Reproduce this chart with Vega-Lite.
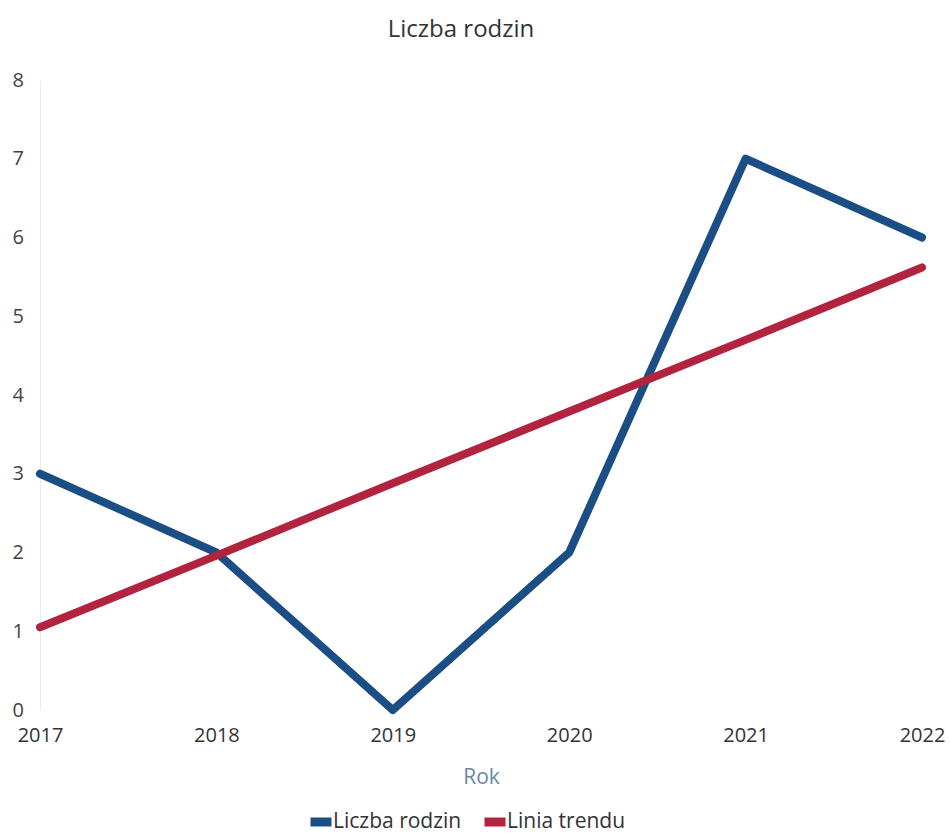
{
  "$schema": "https://vega.github.io/schema/vega-lite/v6.json",
  "width": 882,
  "height": 630,
  "autosize": {"type": "none"},
  "padding": {"left": 40, "top": 80, "right": 28, "bottom": 125},
  "background": "white",
  "title": {
    "text": "Liczba rodzin",
    "font": "Open Sans",
    "fontSize": 24,
    "fontWeight": "normal",
    "color": "#333333",
    "anchor": "middle",
    "dx": -20,
    "offset": 28
  },
  "data": {
    "values": [
      {"Rok": "2017", "value": 3, "series": "Liczba rodzin"},
      {"Rok": "2018", "value": 2, "series": "Liczba rodzin"},
      {"Rok": "2019", "value": 0, "series": "Liczba rodzin"},
      {"Rok": "2020", "value": 2, "series": "Liczba rodzin"},
      {"Rok": "2021", "value": 7, "series": "Liczba rodzin"},
      {"Rok": "2022", "value": 6, "series": "Liczba rodzin"},
      {"Rok": "2017", "value": 1.05, "series": "Linia trendu"},
      {"Rok": "2018", "value": 1.96, "series": "Linia trendu"},
      {"Rok": "2019", "value": 2.88, "series": "Linia trendu"},
      {"Rok": "2020", "value": 3.79, "series": "Linia trendu"},
      {"Rok": "2021", "value": 4.7, "series": "Linia trendu"},
      {"Rok": "2022", "value": 5.62, "series": "Linia trendu"}
    ]
  },
  "mark": {"type": "line", "strokeWidth": 8, "strokeJoin": "round", "strokeCap": "round"},
  "encoding": {
    "x": {
      "field": "Rok",
      "type": "ordinal",
      "scale": {"type": "point", "padding": 0},
      "axis": {
        "title": "Rok",
        "titleFont": "Open Sans",
        "titleFontSize": 21,
        "titleFontWeight": "normal",
        "titleColor": "#6a88a6",
        "titlePadding": 21,
        "labelAngle": 0,
        "labelFont": "Open Sans",
        "labelFontSize": 20,
        "labelColor": "#333333",
        "labelPadding": 15,
        "ticks": false,
        "domain": false,
        "grid": false
      }
    },
    "y": {
      "field": "value",
      "type": "quantitative",
      "scale": {"domain": [0, 8]},
      "axis": {
        "title": null,
        "values": [0, 1, 2, 3, 4, 5, 6, 7, 8],
        "labelFont": "Open Sans",
        "labelFontSize": 20,
        "labelColor": "#444444",
        "labelAlign": "left",
        "labelPadding": 28,
        "ticks": false,
        "domain": true,
        "domainColor": "#ececec",
        "domainWidth": 1,
        "grid": false
      }
    },
    "color": {
      "field": "series",
      "type": "nominal",
      "scale": {"domain": ["Liczba rodzin", "Linia trendu"], "range": ["#1c4e86", "#b2233f"]},
      "legend": {
        "title": null,
        "orient": "none",
        "direction": "horizontal",
        "legendX": 266,
        "legendY": 727,
        "symbolType": "M-1,0H1",
        "symbolSize": 441,
        "symbolStrokeWidth": 9,
        "labelFont": "Open Sans",
        "labelFontSize": 21,
        "labelColor": "#333333",
        "labelOffset": -3,
        "columnPadding": 4
      }
    },
    "order": {"field": "series"}
  },
  "config": {"view": {"stroke": null}}
}
